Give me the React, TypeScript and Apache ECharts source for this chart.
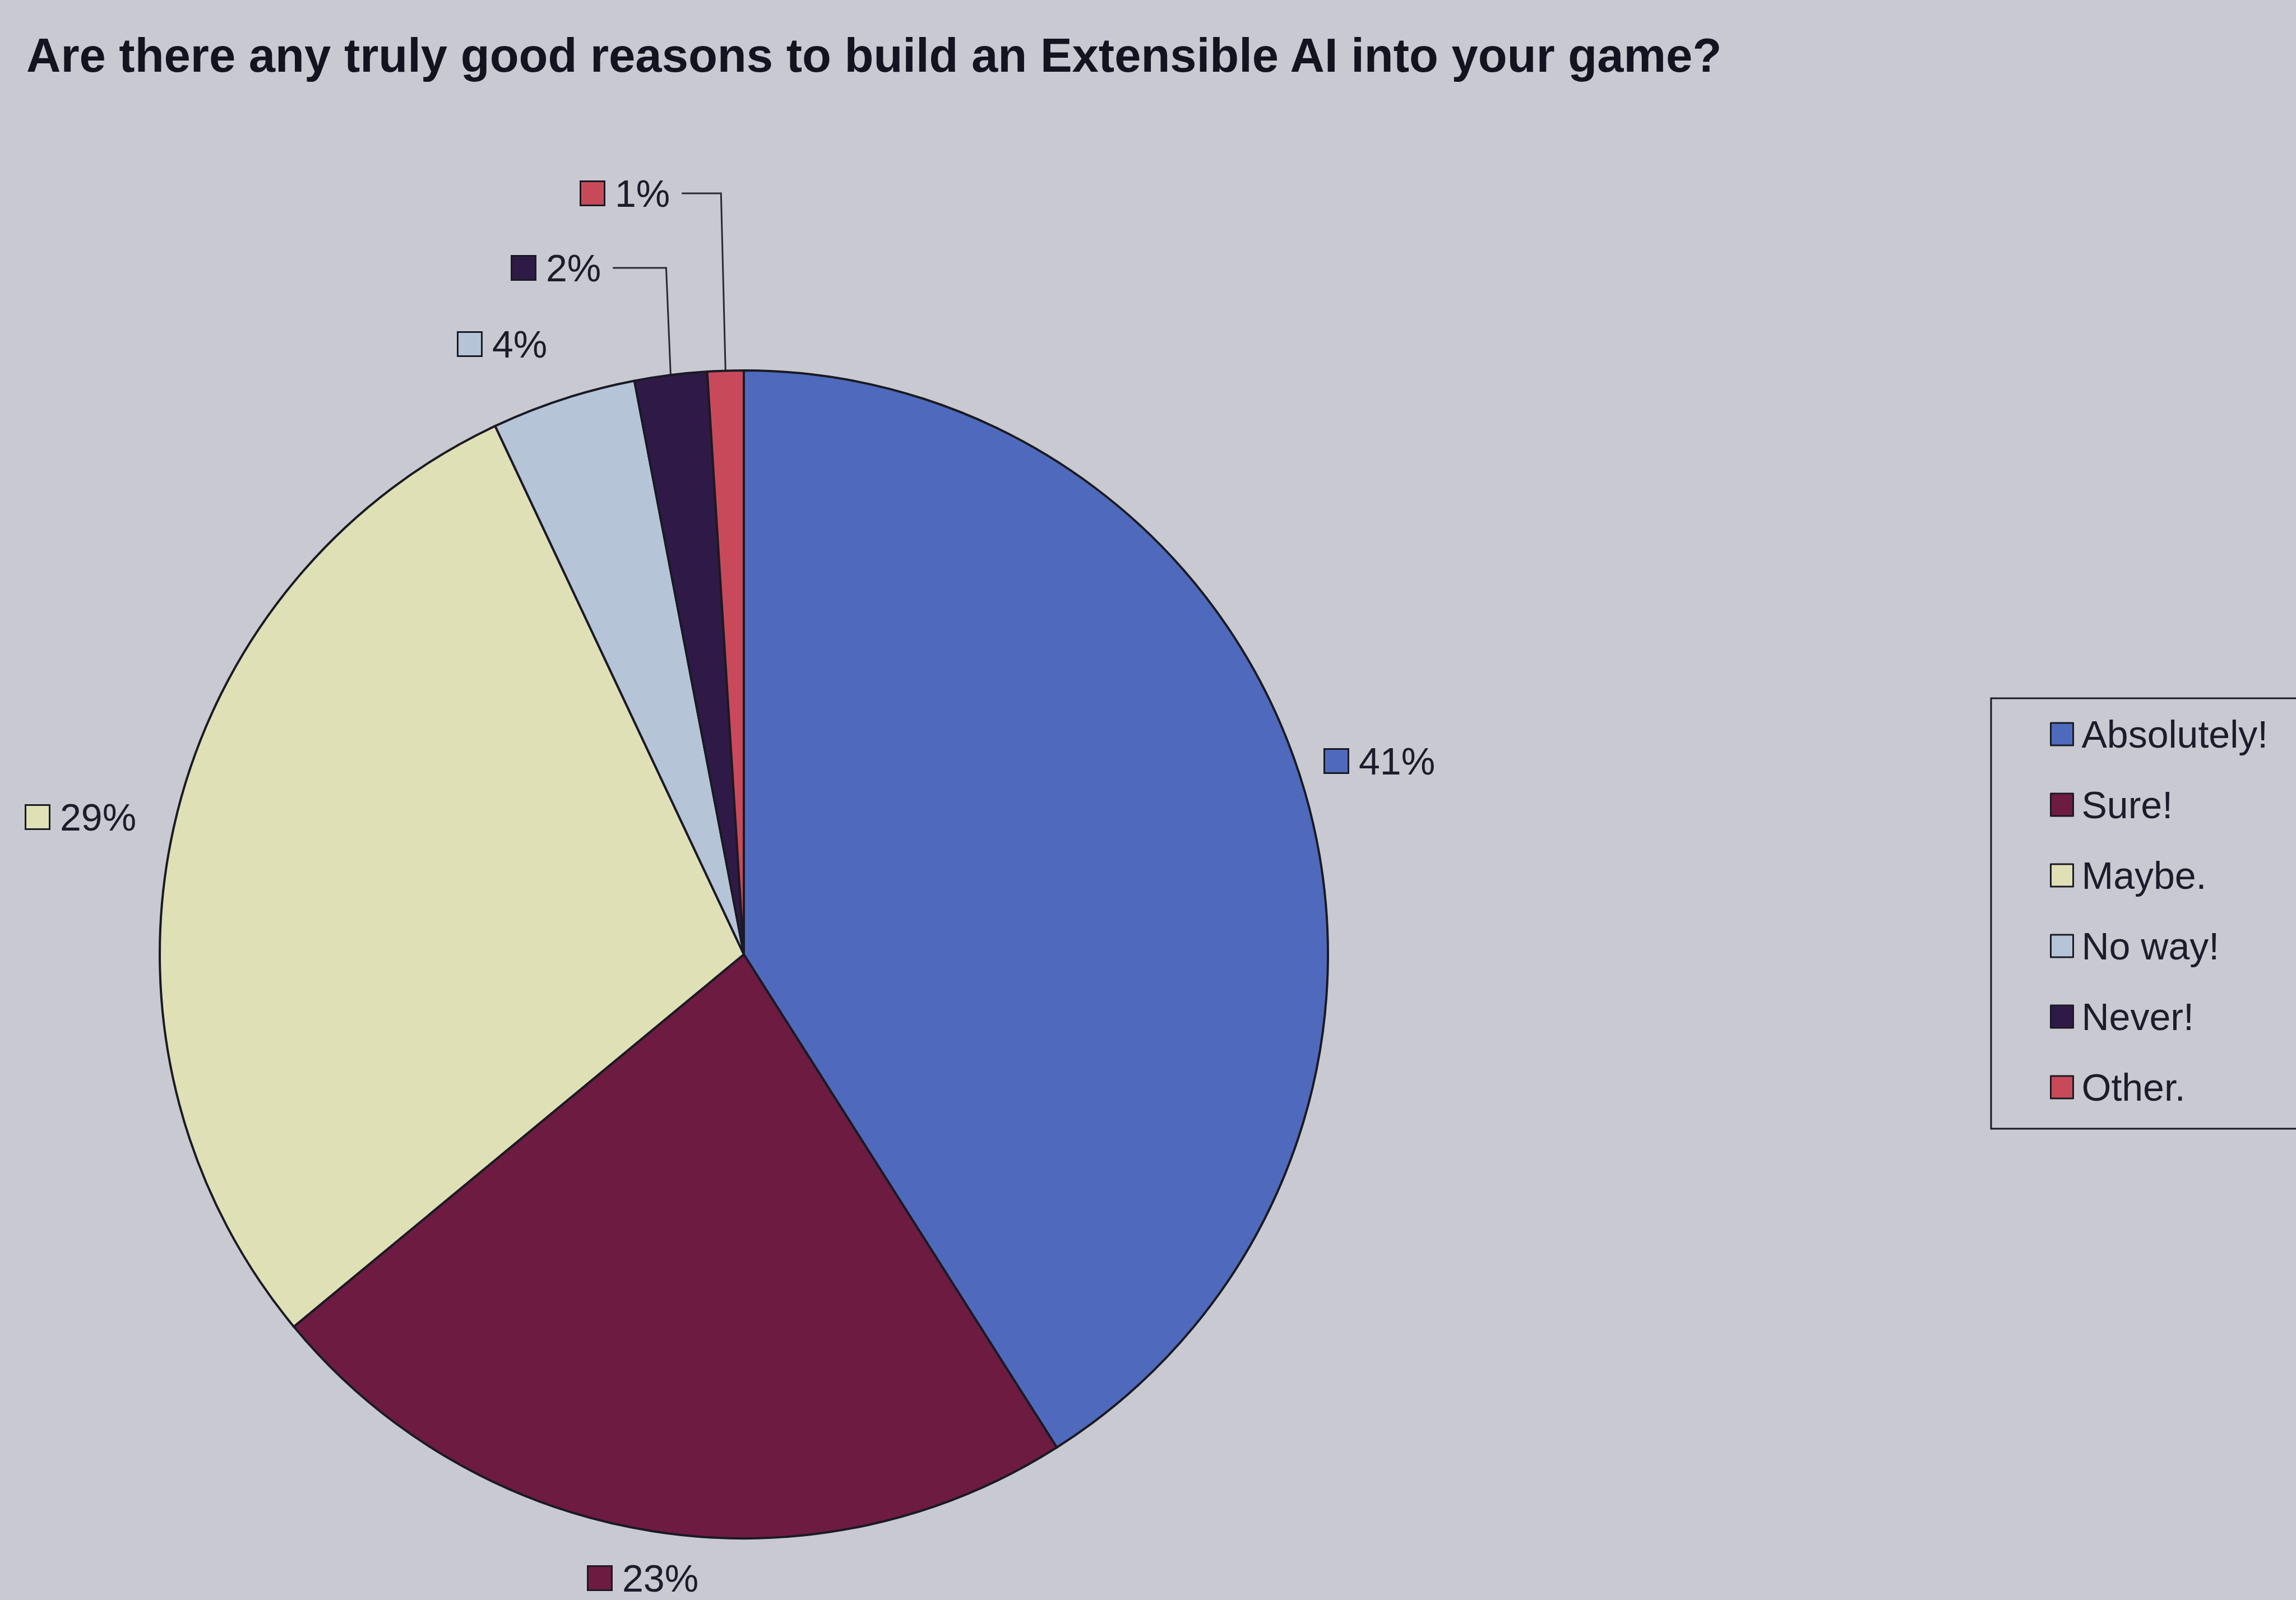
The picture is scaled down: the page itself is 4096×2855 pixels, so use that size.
import React, { useEffect, useRef } from "react";
import * as echarts from "echarts";

const titleText = "Are there any truly good reasons to build an Extensible AI into your game?";
const categories = ["Absolutely!", "Sure!", "Maybe.", "No way!", "Never!", "Other."];
const percents = [41, 23, 29, 4, 2, 1];
const colors = ["#4F6ABC", "#6E1B42", "#E0E0B6", "#B6C4D8", "#2F1A47", "#C84A5A"];
// label anchor positions (left edge of marker, vertical middle), output px
const labelPositions = [
  [2364, 1358],
  [1050, 2816],
  [47, 1458],
  [818, 614],
  [914, 478],
  [1037, 345],
];
const leaderLineItems = [4, 5];

export default function App() {
  const ref = useRef<HTMLDivElement>(null);
  useEffect(() => {
    document.body.style.margin = "0";
    const chart = echarts.init(ref.current!, null, { renderer: "svg" });
    const rich: any = {
      t: { fontSize: 68, color: "#1c1c2a", fontFamily: "Liberation Sans, Arial, sans-serif", padding: [0, 0, 0, 20] },
    };
    colors.forEach((c, i) => {
      rich["m" + i] = { width: 40, height: 40, backgroundColor: c, borderColor: "#1a1a24", borderWidth: 3 };
    });
    const data = categories.map((name, i) => ({
      name,
      value: percents[i],
      itemStyle: { color: colors[i] },
      labelLine: { show: leaderLineItems.includes(i) },
    }));
    chart.setOption({
      animation: false,
      backgroundColor: "#C9C9D1",
      title: {
        text: titleText,
        left: 47,
        top: 56,
        padding: 0,
        textStyle: { fontSize: 85, fontWeight: "bold", color: "#141420", fontFamily: "Liberation Sans, Arial, sans-serif" },
      },
      legend: {
        orient: "vertical",
        left: 3552,
        top: 1246,
        padding: [30, 160, 40, 105],
        itemGap: 58,
        itemWidth: 40,
        itemHeight: 40,
        icon: "rect",
        borderColor: "#1a1a24",
        borderWidth: 3,
        data: categories,
        itemStyle: { borderColor: "#1a1a24", borderWidth: 3 },
        textStyle: { fontSize: 68, color: "#1c1c2a", fontFamily: "Liberation Sans, Arial, sans-serif", padding: [0, 0, 0, 10] },
      },
      series: [
        {
          type: "pie",
          center: [1327, 1703],
          radius: 1042,
          startAngle: 90,
          clockwise: true,
          avoidLabelOverlap: false,
          data,
          itemStyle: { borderColor: "#1a1a24", borderWidth: 4 },
          label: {
            show: true,
            position: "outside",
            formatter: (p: any) => `{m${p.dataIndex}|}{t|${p.value}%}`,
            rich,
          },
          labelLine: { show: false, lineStyle: { color: "#2a2a34", width: 3 }, length: 40, length2: 40 },
          emphasis: { disabled: true },
          labelLayout: (params: any) => {
            const [x, y] = labelPositions[params.dataIndex];
            const out: any = { x, y, align: "left", verticalAlign: "middle" };
            if (params.labelLinePoints && leaderLineItems.includes(params.dataIndex)) {
              const a = params.labelLinePoints[0];
              const endX = x + params.labelRect.width + 18;
              out.labelLinePoints = [
                [a[0], a[1]],
                [a[0] - 8, y],
                [endX, y],
              ];
            }
            return out;
          },
        },
      ],
    });
    return () => chart.dispose();
  }, []);
  return <div ref={ref} style={{ position: "fixed", left: 0, top: 0, width: "100vw", height: "100vh" }} />;
}
